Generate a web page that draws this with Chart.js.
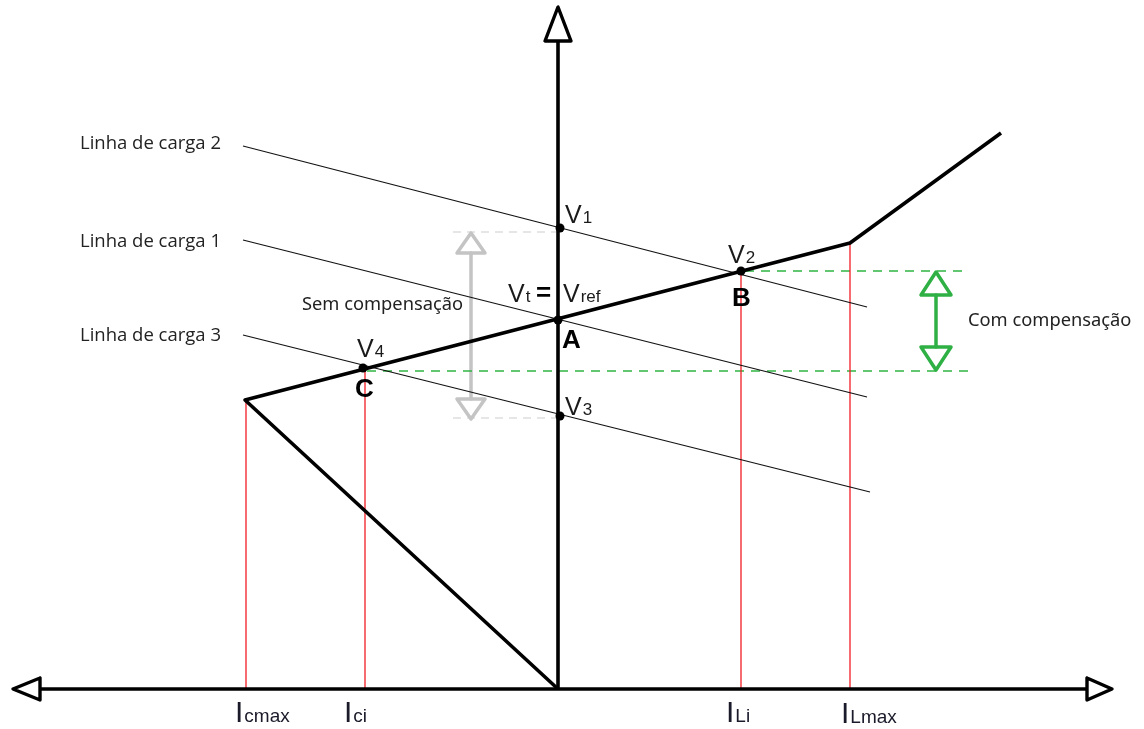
<!DOCTYPE html>
<html>
<head>
<meta charset="utf-8">
<title>Característica V-I do compensador</title>
<script src="https://cdn.jsdelivr.net/npm/chart.js@4.4.1/dist/chart.umd.min.js"></script>
<style>
html, body { margin: 0; padding: 0; background: #fff; }
#wrap { width: 1144px; height: 729px; }
</style>
</head>
<body>
<div id="wrap"><canvas id="vCurve"></canvas></div>
<script>
// eixo x: corrente (esquerda capacitiva, direita indutiva), eixo y: tensão
// origem no cruzamento dos eixos
const xRange = [-558, 586];
const yRange = [-40, 689];

const characteristic = [[0, 0], [-313, 289], [292, 446], [443, 556]];
const loadLine2 = [[-315, 543], [309, 382]];
const loadLine1 = [[-315, 449], [309, 292]];
const loadLine3 = [[-315, 354], [312, 197]];

const operatingPoints = [[2, 461], [0, 369], [2, 273], [183, 418], [-195, 321]];

const currentNames = [['I', 'cmax'], ['I', 'ci'], ['I', 'Li'], ['I', 'Lmax']];
const currentValues = [-312, -193, 183, 292];
const currentTops = [289, 321, 418, 446];
const currentLabelAt = [[-323, -33], [-214, -33], [168, -33], [283, -34]];

const voltageNames = [['V', '1'], ['V', '2'], ['V', '3'], ['V', '4'], ['V', 't'], ['V', 'ref']];
const voltageLabelAt = [[7, 466], [170, 426], [7, 274], [-201, 332], [-50, 387], [5, 387]];

const pointLetters = ['A', 'B', 'C', '='];
const pointLetterAt = [[4, 341], [174, 383], [-203, 292], [-22, 388]];

const captions = ['Linha de carga 2', 'Linha de carga 1', 'Linha de carga 3', 'Sem compensação', 'Com compensação'];
const captionAt = [[-478, 540], [-478, 442], [-478, 348], [-256, 379], [410, 363]];

// faixas de tensão: sem compensação (V1..V3) e com compensação (V2..V4)
const bandNoComp = [457, 271];
const bandNoCompX = [-105, -2];
const bandComp = [418, 318];
const bandCompX = [[187, 410], [-191, 410]];

const pts = arr => arr.map(p => ({ x: p[0], y: p[1] }));

function line(data, color, width, dash) {
    return {
        data: pts(data),
        showLine: true,
        borderColor: color,
        borderWidth: width,
        borderDash: dash || [],
        pointRadius: 0,
        fill: false,
        tension: 0,
        borderJoinStyle: 'round',
        borderCapStyle: 'butt'
    };
}

function head(tip, baseV, half, horizontal) {
    if (horizontal) {
        return [[tip[0], tip[1]], [baseV, tip[1] + half], [baseV, tip[1] - half], [tip[0], tip[1]], [baseV, tip[1] + half]];
    }
    return [[tip[0], tip[1]], [tip[0] - half, baseV], [tip[0] + half, baseV], [tip[0], tip[1]], [tip[0] - half, baseV]];
}

function doubleArrow(xPos, top, bottom, len, half, color) {
    return [
        line(head([xPos, top], top - len, half), color, 3.5),
        line(head([xPos, bottom], bottom + len, half), color, 3.5),
        line([[xPos, top - len], [xPos, bottom + len]], color, 3.5)
    ];
}

const datasets = [];

// pontos de operação
datasets.push({
    data: pts(operatingPoints),
    showLine: false,
    pointRadius: 4.5,
    pointBackgroundColor: '#000',
    pointBorderWidth: 0
});

// característica do compensador
datasets.push(line(characteristic, '#000', 3.6));

// eixos
datasets.push(line([[-518, 0], [529, 0]], '#000', 3.6));
datasets.push(line([[0, 0], [0, 648]], '#000', 3.6));
datasets.push(line(head([-545, 0], -518, 11, true), '#000', 3.4));
datasets.push(line(head([554, 0], 529, 11, true), '#000', 3.4));
datasets.push(line(head([0, 682], 648, 13), '#000', 3.4));

// linhas de carga
[loadLine2, loadLine1, loadLine3].forEach(l => datasets.push(line(l, '#111', 1.2)));

// correntes
currentValues.forEach((c, i) => {
    datasets.push(line([[c, 0], [c, currentTops[i]]], '#f21c24', 1.3));
});

// faixa com compensação
datasets.push(...doubleArrow(378, bandComp[0] - 1, bandComp[1] + 1, 23, 15, '#2fb045'));
datasets.push(line([[bandCompX[0][0], bandComp[0]], [bandCompX[0][1], bandComp[0]]], '#30b543', 1.3, [9, 7]));
datasets.push(line([[bandCompX[1][0], bandComp[1]], [bandCompX[1][1], bandComp[1]]], '#30b543', 1.3, [9, 7]));

// faixa sem compensação
datasets.push(...doubleArrow(-87, bandNoComp[0] - 1, bandNoComp[1] - 1, 20, 14, '#c4c4c4'));
datasets.push(line([[bandNoCompX[0], bandNoComp[0]], [bandNoCompX[1], bandNoComp[0]]], '#cdcdcd', 1.2, [8, 6]));
datasets.push(line([[bandNoCompX[0], bandNoComp[1]], [bandNoCompX[1], bandNoComp[1]]], '#cdcdcd', 1.2, [8, 6]));

const diagramLabels = {
    id: 'diagramLabels',
    afterDatasetsDraw(chart) {
        const { ctx, scales: { x, y } } = chart;
        ctx.save();
        ctx.textBaseline = 'alphabetic';
        ctx.textAlign = 'left';

        function withSub(parts, at, mainFont, subFont, color) {
            let px = x.getPixelForValue(at[0]);
            const py = y.getPixelForValue(at[1]);
            ctx.fillStyle = color;
            ctx.font = mainFont;
            ctx.fillText(parts[0], px, py);
            px += ctx.measureText(parts[0]).width;
            ctx.font = subFont;
            ctx.fillText(parts[1], px + 1, py);
        }

        voltageNames.forEach((p, i) => withSub(p, voltageLabelAt[i], '25px "Liberation Sans"', '17px "Liberation Sans"', '#1a1a1a'));
        currentNames.forEach((p, i) => withSub(p, currentLabelAt[i], '30px "Liberation Sans"', '19px "Liberation Sans"', '#1a1a2a'));

        ctx.fillStyle = '#000';
        ctx.font = 'bold 26px "Liberation Sans"';
        pointLetters.forEach((t, i) => {
            ctx.fillText(t, x.getPixelForValue(pointLetterAt[i][0]), y.getPixelForValue(pointLetterAt[i][1]));
        });

        ctx.fillStyle = '#222';
        captions.forEach((t, i) => {
            ctx.font = i < 3 ? '18.5px "Open Sans"' : '18.3px "Noto Sans"';
            ctx.fillText(t, x.getPixelForValue(captionAt[i][0]), y.getPixelForValue(captionAt[i][1]));
        });
        ctx.restore();
    }
};

const ctx = document.getElementById('vCurve').getContext('2d');
const vCurve = new Chart(ctx, {
    type: 'scatter',
    data: { datasets: datasets },
    options: {
        responsive: true,
        maintainAspectRatio: false,
        animation: false,
        layout: { padding: 0, autoPadding: false },
        plugins: {
            legend: { display: false },
            tooltip: { enabled: false }
        },
        scales: {
            x: { type: 'linear', min: xRange[0], max: xRange[1], display: false },
            y: { type: 'linear', min: yRange[0], max: yRange[1], display: false }
        }
    },
    plugins: [diagramLabels]
});
</script>
</body>
</html>
